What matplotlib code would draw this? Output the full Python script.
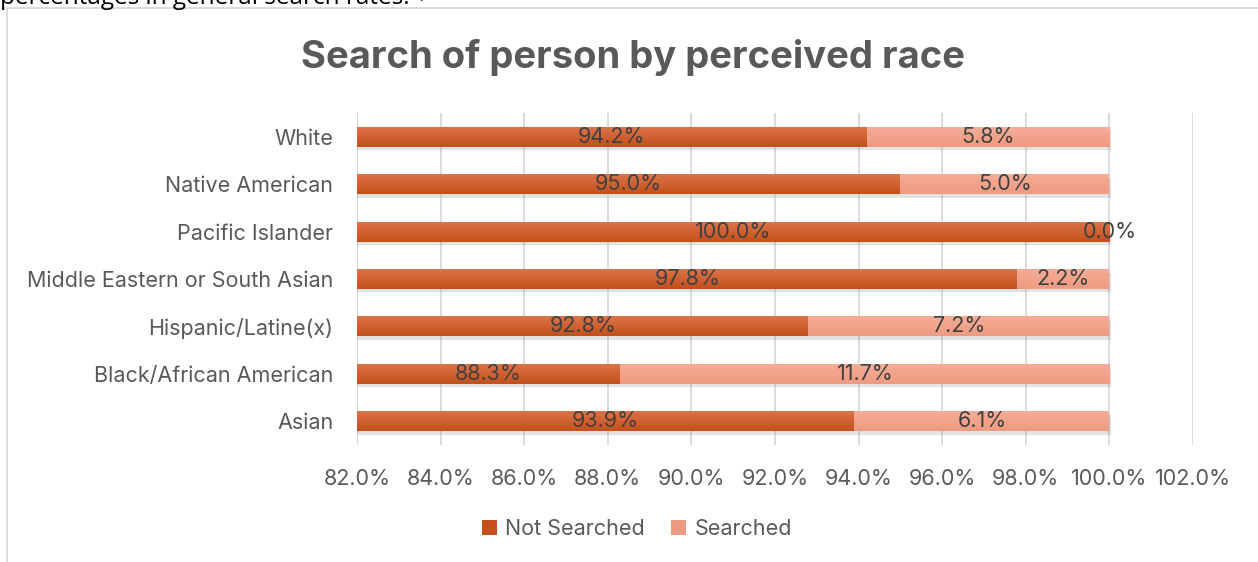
import matplotlib.pyplot as plt
import matplotlib.patheffects as pe
import numpy as np
from matplotlib.colors import to_rgb
from matplotlib.patches import Rectangle

plt.rcParams['font.family'] = ['Inter', 'DejaVu Sans']

# Values per group (top to bottom as displayed)
races = ['White', 'Native American', 'Pacific Islander', 'Middle Eastern or South Asian',
         'Hispanic/Latine(x)', 'Black/African American', 'Asian']
not_searched = [94.2, 95.0, 100.0, 97.8, 92.8, 88.3, 93.9]
searched = [5.8, 5.0, 0.0, 2.2, 7.2, 11.7, 6.1]
x_ticks = [82, 84, 86, 88, 90, 92, 94, 96, 98, 100, 102]

dark_top, dark_bot = '#DB7349', '#C4501B'
light_top, light_bot = '#F4AD97', '#EE9A80'
txt_grey = '#595959'
xmin, xmax = 82, 102


def grad_bar(ax, y, left, width, h, c_top, c_bot):
    rect = Rectangle((left, y - h / 2), width, h, facecolor=c_bot, edgecolor='none', zorder=3,
                     path_effects=[pe.SimplePatchShadow(offset=(1, -2.5), shadow_rgbFace='#8c8c8c', alpha=0.25),
                                   pe.Normal()])
    ax.add_patch(rect)
    if width <= 0:
        return
    # vertical gradient, only over the part of the bar inside the axes
    x0 = max(left, xmin)
    x1 = min(left + width, xmax)
    t = np.linspace(0, 1, 32)[:, None]
    img = (1 - t) * np.array(to_rgb(c_top)) + t * np.array(to_rgb(c_bot))
    img = img[:, None, :].repeat(2, axis=1)
    ax.imshow(img, extent=(x0, x1, y + h / 2, y - h / 2), aspect='auto',
              zorder=4, interpolation='bilinear')


fig = plt.figure(figsize=(12.58, 5.62), dpi=100)
ax = fig.add_axes([0.2838, 0.2082, 0.9483 - 0.2838, 0.7989 - 0.2082])

# chart frame and the cut-off line of text above it
fig.patches.append(Rectangle((7 / 1258, -0.1), 1.2, 1 - 8 / 562 + 0.1, transform=fig.transFigure,
                             facecolor='none', edgecolor='#d9d9d9', linewidth=1.3))
fig.text(0.0, 1 - 3.5 / 562, 'percentages in general search rates. \u21b5', fontsize=17.5,
         color='black', ha='left', va='baseline', family=['Open Sans', 'DejaVu Sans'])

h = 0.42
for i, (ns, s) in enumerate(zip(not_searched, searched)):
    grad_bar(ax, i, 0, ns, h, dark_top, dark_bot)
    grad_bar(ax, i, ns, s, h, light_top, light_bot)
    ax.text((max(0, xmin) + ns) / 2, i, f'{ns:.1f}%', ha='center', va='center',
            fontsize=15.5, color='#404040', zorder=6)
    ax.text(ns + s / 2, i, f'{s:.1f}%', ha='center', va='center',
            fontsize=15.5, color='#404040', zorder=6)

ax.set_xlim(xmin, xmax)
ax.set_ylim(len(races) - 0.5, -0.5)
ax.set_xticks(x_ticks)
ax.set_xticklabels([f'{v:.1f}%' for v in x_ticks])
ax.set_yticks(range(len(races)))
ax.set_yticklabels(races)
ax.grid(axis='x', color='#d9d9d9', linewidth=1.3, zorder=0)
ax.set_axisbelow(True)
for sp in ax.spines.values():
    sp.set_visible(False)
ax.tick_params(axis='both', length=0, labelsize=15.5, labelcolor=txt_grey)
ax.tick_params(axis='x', pad=17)
ax.tick_params(axis='y', pad=17)

fig.text(633 / 1258, 1 - 57 / 562, 'Search of person by perceived race', ha='center', va='center',
         fontsize=27.5, fontweight='bold', color=txt_grey)

handles = [Rectangle((0, 0), 1, 1, facecolor=dark_bot), Rectangle((0, 0), 1, 1, facecolor=light_bot)]
fig.legend(handles, ['Not Searched', 'Searched'], loc='center', bbox_to_anchor=(637 / 1258, 1 - 529 / 562),
           ncol=2, frameon=False, fontsize=15.5, labelcolor=txt_grey, handlelength=0.7, handleheight=0.7,
           handletextpad=0.4, columnspacing=1.2)

fig.savefig('out.png', dpi=100)
